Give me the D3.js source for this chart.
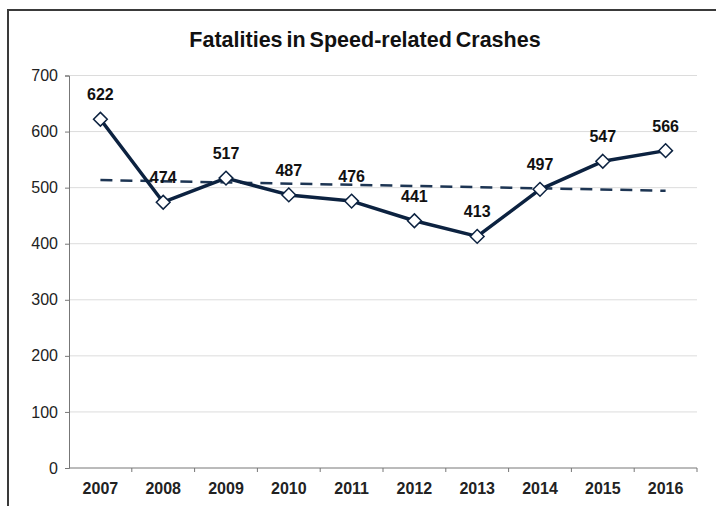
<!DOCTYPE html>
<html>
<head>
<meta charset="utf-8">
<script src="https://cdn.jsdelivr.net/npm/d3@7"></script>
<style>
  body { margin: 0; background: #fff; }
  text { font-family: "Liberation Sans", Arial, sans-serif; }
</style>
</head>
<body>
<div id="chart"></div>
<script>
const years = ['2007', '2008', '2009', '2010', '2011', '2012', '2013', '2014', '2015', '2016'];
const fatalities = [622, 474, 517, 487, 476, 441, 413, 497, 547, 566];
const trendEnds = [513.5, 494.5];
const yTicks = [0, 100, 200, 300, 400, 500, 600, 700];

const w = 716;
const h = 506;
const plotLeft = 69, plotRight = 697, plotTop = 75.5, plotBottom = 468;

const svg = d3.select('#chart')
    .append('svg')
    .attr('width', w)
    .attr('height', h);

// outer frame (cut off on the right and bottom)
svg.append('rect')
    .attr('x', 8)
    .attr('y', 10)
    .attr('width', 720)
    .attr('height', 520)
    .attr('fill', 'none')
    .attr('stroke', '#3a3a3a')
    .attr('stroke-width', 2);

svg.append('text')
    .attr('x', 365)
    .attr('y', 47)
    .attr('text-anchor', 'middle')
    .attr('font-size', 21.5)
    .attr('font-weight', 'bold')
    .attr('word-spacing', -2)
    .attr('fill', '#111')
    .text('Fatalities in Speed-related Crashes');

const xScale = d3.scaleBand()
    .domain(years)
    .range([plotLeft, plotRight]);

const yScale = d3.scaleLinear()
    .domain([0, 700])
    .range([plotBottom, plotTop]);

// gridlines
svg.append('g')
    .selectAll('line')
    .data(yTicks.filter(d => d > 0))
    .enter()
    .append('line')
    .attr('x1', plotLeft)
    .attr('x2', plotRight)
    .attr('y1', d => yScale(d))
    .attr('y2', d => yScale(d))
    .attr('stroke', '#dcdcdc')
    .attr('stroke-width', 1);

const yAxis = d3.axisLeft(yScale)
    .tickValues(yTicks)
    .tickSize(4)
    .tickPadding(7);

const gy = svg.append('g')
    .attr('transform', 'translate(' + plotLeft + ',0)')
    .call(yAxis);
gy.selectAll('path, line').attr('stroke', '#777');
gy.selectAll('text')
    .attr('font-size', 16)
    .attr('fill', '#222')
    .style('font-family', '"Liberation Sans", Arial, sans-serif');

const xAxis = d3.axisBottom(xScale)
    .tickSize(0)
    .tickPadding(15);

const gx = svg.append('g')
    .attr('transform', 'translate(0,' + plotBottom + ')')
    .call(xAxis);
gx.select('path').attr('stroke', '#777').attr('d', 'M' + plotLeft + ',0H' + plotRight + 'V4');
gx.selectAll('text')
    .attr('font-size', 16)
    .attr('font-weight', 'bold')
    .attr('fill', '#222')
    .style('font-family', '"Liberation Sans", Arial, sans-serif');

// boundary ticks between categories
svg.append('g')
    .selectAll('line')
    .data(years.slice(1))
    .enter()
    .append('line')
    .attr('x1', d => xScale(d))
    .attr('x2', d => xScale(d))
    .attr('y1', plotBottom)
    .attr('y2', plotBottom + 4)
    .attr('stroke', '#777');

const cx = d => xScale(d) + xScale.bandwidth() / 2;

// dashed trend line
svg.append('line')
    .attr('x1', cx(years[0]))
    .attr('x2', cx(years[years.length - 1]))
    .attr('y1', yScale(trendEnds[0]))
    .attr('y2', yScale(trendEnds[1]))
    .attr('stroke', '#1d3553')
    .attr('stroke-width', 2.5)
    .attr('stroke-dasharray', '12,8');

const line = d3.line()
    .x((d, i) => cx(years[i]))
    .y(d => yScale(d));

svg.append('path')
    .datum(fatalities)
    .attr('d', line)
    .attr('fill', 'none')
    .attr('stroke', '#0c2240')
    .attr('stroke-width', 3.5)
    .attr('stroke-linejoin', 'round');

svg.append('g')
    .selectAll('path')
    .data(fatalities)
    .enter()
    .append('path')
    .attr('d', d3.symbol().type(d3.symbolDiamond2).size(120))
    .attr('transform', (d, i) => 'translate(' + cx(years[i]) + ',' + yScale(d) + ')')
    .attr('fill', '#fff')
    .attr('stroke', '#0c2240')
    .attr('stroke-width', 1.5);

svg.append('g')
    .selectAll('text')
    .data(fatalities)
    .enter()
    .append('text')
    .attr('x', (d, i) => cx(years[i]))
    .attr('y', d => yScale(d) - 19)
    .attr('text-anchor', 'middle')
    .attr('font-size', 16)
    .attr('font-weight', 'bold')
    .attr('fill', '#111')
    .text(d => d);
</script>
</body>
</html>
